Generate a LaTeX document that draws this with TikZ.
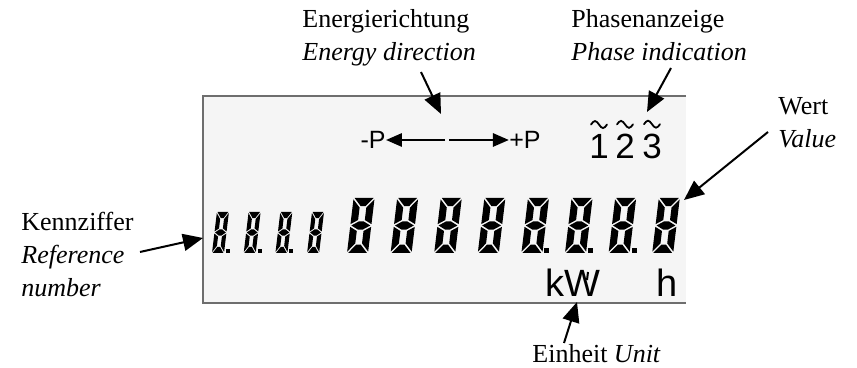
\documentclass[tikz,border=0pt]{standalone}
\usepackage{fontspec}
\setmainfont{Liberation Serif}
\newfontfamily\lcdfont{Liberation Sans}
\usetikzlibrary{arrows.meta,positioning}

\definecolor{panelgray}{RGB}{245,245,245}
\definecolor{framegray}{RGB}{110,110,110}

\tikzset{
  lbl/.style={font=\fontsize{13}{16.5}\selectfont, align=left, inner sep=0pt, anchor=north west},
  callout/.style={line width=1pt, -{Triangle[length=10pt,width=8.5pt]}},
  dirarrow/.style={line width=1.4pt, -{Triangle[length=8pt,width=6.5pt]}},
  lcdtext/.style={font=\lcdfont\fontsize{12.5}{14}\selectfont, inner sep=0pt},
  phase/.style={font=\lcdfont\fontsize{17.5}{18}\selectfont, inner sep=0pt},
  tildeline/.style={line width=0.9pt, line cap=round},
  unittext/.style={font=\lcdfont\fontsize{19}{20}\selectfont, inner sep=0pt},
}

% one slanted seven segment digit: left, bottom, width, height
\newcommand{\segdigit}[4]{%
  \begin{scope}[shift={(#1,#2)},xslant=0.12,xscale=#3,yscale=#4/2]
    \fill (0.05,2) -- (0.95,2) -- (0.61,1.7) -- (0.39,1.7) -- cycle;
    \fill (0.05,0) -- (0.95,0) -- (0.61,0.3) -- (0.39,0.3) -- cycle;
    \fill (0.05,1) -- (0.39,1.15) -- (0.61,1.15) -- (0.95,1) -- (0.61,0.85) -- (0.39,0.85) -- cycle;
    \fill (0,1.95) -- (0.34,1.65) -- (0.34,1.2) -- (0,1.05) -- cycle;
    \fill (0,0.05) -- (0,0.95) -- (0.34,0.8) -- (0.34,0.35) -- cycle;
    \fill (1,1.95) -- (1,1.05) -- (0.66,1.2) -- (0.66,1.65) -- cycle;
    \fill (1,0.05) -- (1,0.95) -- (0.66,0.8) -- (0.66,0.35) -- cycle;
  \end{scope}}
\newcommand{\segdot}[3]{\fill (#1,#2) rectangle ++(#3,#3);}

\begin{document}
\begin{tikzpicture}[x=0.5pt,y=0.5pt]
    \useasboundingbox (0,0) rectangle (857,368);
    % display panel
    \fill[panelgray] (203,65) rectangle (686,272);
    \draw[framegray, line width=0.6pt] (686,272) -- (203,272) -- (203,65) -- (686,65);

    % energy direction
    \node[lcdtext] (mP) at (373,228) {-P};
    \node[lcdtext] (pP) at (525,228) {+P};
    \coordinate (midl) at (445,228);
    \coordinate (midr) at (449,228);
    \draw[dirarrow] (midl) -- (mP.east);
    \draw[dirarrow] (midr) -- (pP.west);

    % phases
    \foreach \n/\x in {1/599,2/625,3/652} {
        \node[phase] (ph\n) at (\x,222) {\n};
        \draw[tildeline] ([shift={(-8,9)}]ph\n.north) sin ++(4,3.5) cos ++(4,-3.5)
            sin ++(4,-3.5) cos ++(4,3.5);
    }

    % reference number and value
    \foreach \i in {0,...,3} \segdigit{212+31.7*\i}{115}{12}{41};
    \foreach \i in {0,1,2} \segdot{212+31.7*\i+14}{115}{4};
    \foreach \i in {0,...,7} \segdigit{347+43.6*\i}{115}{21}{55};
    \foreach \i in {4,5,6} \segdot{347+43.6*\i+23}{115}{5};

    % unit
    \node[unittext] (kw) at (573,85) {kW};
    \node[unittext] (hh) at (667,85) {h};
    \draw[line width=1pt] (588,96) -- (587,88);

    % labels
    \node[lbl] (enlbl) at (302,359) {Energierichtung\\\textit{Energy direction}};
    \node[lbl] (phlbl) at (571,359) {Phasenanzeige\\\textit{Phase indication}};
    \node[lbl] (wlbl) at (778,271) {Wert\\\textit{Value}};
    \node[lbl] (klbl) at (21,156) {Kennziffer\\\textit{Reference}\\\textit{number}};
    \node[lbl] (elbl) at (532,24) {Einheit \textit{Unit}};

    % callouts
    \coordinate (en0) at (421,296);
    \coordinate (en1) at (441,254);
    \coordinate (ph0) at (671,300);
    \coordinate (ph1) at (647,256);
    \coordinate (va0) at (768,236);
    \coordinate (va1) at (684,168);
    \coordinate (rf0) at (140,116);
    \coordinate (rf1) at (203,130);
    \coordinate (un0) at (564,25);
    \coordinate (un1) at (577,66);
    \draw[callout] (en0) -- (en1);
    \draw[callout] (ph0) -- (ph1);
    \draw[callout] (va0) -- (va1);
    \draw[callout] (rf0) -- (rf1);
    \draw[callout] (un0) -- (un1);
\end{tikzpicture}
\end{document}
